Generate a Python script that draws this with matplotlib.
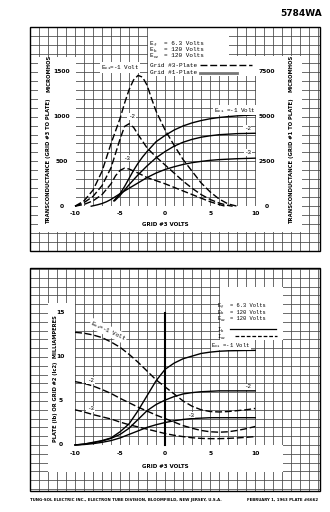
import matplotlib
matplotlib.use("Agg")
import matplotlib.pyplot as plt
from matplotlib.patches import Rectangle
import numpy as np

# ---------------- data ----------------
# Top panel: transconductance grid #3 -> plate (left axis, micromhos), dashed
gm3_m1_x = [-10, -9, -8, -7, -6, -5, -4.5, -4, -3.5, -3, -2.5, -2, -1.5, -1, 0, 1, 2, 3, 4, 5, 6, 7, 8]
gm3_m1_y = [0, 60, 180, 390, 700, 980, 1150, 1300, 1410, 1460, 1440, 1350, 1200, 1060, 850, 680, 520, 390, 260, 160, 80, 25, 0]
gm3_m2_x = [-10, -9, -8, -7, -6, -5, -4.5, -4, -3.5, -3, -2, -1, 0, 1, 2, 3, 4, 5, 6, 7, 7.5]
gm3_m2_y = [0, 40, 110, 230, 430, 750, 890, 920, 880, 800, 650, 550, 460, 370, 280, 200, 130, 75, 35, 8, 0]
gm3_m3_x = [-10, -9, -8, -7, -6, -5.5, -5, -4.5, -4, -3, -2, -1, 0, 1, 2, 3, 4, 5, 6, 6.7]
gm3_m3_y = [0, 20, 60, 130, 250, 340, 400, 425, 415, 370, 320, 285, 250, 210, 170, 130, 90, 50, 18, 0]

# Top panel: transconductance grid #1 -> plate (right axis, micromhos), solid
gm1_m1_x = [-5.7, -5, -4.5, -4, -3.5, -3, -2.5, -2, -1, 0, 1, 2, 3, 4, 5, 6, 7, 8, 9, 10]
gm1_m1_y = [300, 700, 1100, 1550, 2000, 2400, 2750, 3050, 3600, 3950, 4250, 4480, 4650, 4780, 4880, 4950, 5000, 5040, 5070, 5090]
gm1_m2_x = [-5.6, -5, -4.5, -4, -3, -2, -1, 0, 1, 2, 3, 4, 5, 6, 8, 10]
gm1_m2_y = [300, 600, 900, 1200, 1750, 2250, 2700, 3050, 3350, 3570, 3730, 3850, 3930, 3990, 4050, 4070]
gm1_m3_x = [-8.2, -7.5, -7, -6.5, -6, -5, -4, -3, -2, -1, 0, 1, 2, 3, 4, 5, 6, 8, 10]
gm1_m3_y = [0, 80, 150, 250, 380, 700, 1000, 1300, 1600, 1850, 2050, 2200, 2330, 2430, 2500, 2560, 2600, 2650, 2680]

# Bottom panel: grid #3 volts
e3 = [-10, -9, -8, -7, -6, -5, -4, -3, -2, -1, 0, 1, 2, 3, 4, 5, 6, 7, 8, 9, 10]
ib_m1 = [0, 0.1, 0.3, 0.5, 0.8, 1.5, 2.4, 3.9, 5.6, 7.3, 8.6, 9.3, 9.8, 10.1, 10.4, 10.55, 10.65, 10.7, 10.72, 10.74, 10.75]
ib_m2 = [0, 0.1, 0.25, 0.45, 0.75, 1.2, 1.9, 2.9, 3.9, 4.6, 5.1, 5.5, 5.8, 5.95, 6.05, 6.1, 6.15, 6.15, 6.15, 6.15, 6.15]
ib_m3 = [0, 0.05, 0.15, 0.3, 0.5, 0.8, 1.2, 1.6, 2.0, 2.3, 2.55, 2.75, 2.9, 3.0, 3.05, 3.1, 3.1, 3.1, 3.1, 3.1, 3.1]
ic2_m1 = [12.8, 12.7, 12.5, 12.2, 11.7, 11.1, 10.3, 9.4, 8.4, 7.4, 6.6, 5.8, 5.0, 4.4, 4.0, 3.8, 3.75, 3.8, 3.9, 4.0, 4.15]
ic2_m2 = [7.2, 7.0, 6.7, 6.3, 5.85, 5.3, 4.8, 4.3, 3.85, 3.4, 3.0, 2.6, 2.2, 1.9, 1.65, 1.5, 1.45, 1.5, 1.65, 1.85, 2.1]
ic2_m3 = [4.0, 3.75, 3.45, 3.2, 2.95, 2.6, 2.3, 2.05, 1.8, 1.55, 1.3, 1.1, 0.95, 0.82, 0.75, 0.72, 0.72, 0.75, 0.8, 0.87, 0.95]

x_ticks = [-10, -5, 0, 5, 10]
top_left_ticks = [0, 500, 1000, 1500]
top_right_ticks = [0, 2500, 5000, 7500]
bot_left_ticks = [0, 5, 10, 15]

# ---------------- figure ----------------
W, H = 330, 512
fig = plt.figure(figsize=(3.3, 5.12), dpi=100)
fig.patch.set_facecolor("white")

def box(x0, y0, x1, y1):
    return [x0 / W, 1 - y1 / H, (x1 - x0) / W, (y1 - y0) / H]

def white(ax, x0, y0, x1, y1, z=2):
    ax.add_patch(Rectangle((x0 / W, 1 - y1 / H), (x1 - x0) / W, (y1 - y0) / H,
                           transform=fig.transFigure, facecolor="white",
                           edgecolor="none", zorder=z, clip_on=False))

GRID_C = "#444444"
GRID_LW = 0.55
MONO = "Liberation Mono"
BOLD = "DejaVu Sans"
DASH = (5, 2)

lbl_box = dict(facecolor="white", edgecolor="none", pad=0.6)

def sub_line(ax, x, y, main, sub, rest, fs, col_rest=4):
    """monospace line with a manual subscript: main + sub, then rest at column col_rest"""
    cw = 0.6 * fs
    ax.annotate(main, xy=(x, y), xytext=(0, 0), textcoords="offset points",
                ha="left", va="center", fontsize=fs, family=MONO, zorder=6)
    ax.annotate(sub, xy=(x, y), xytext=(cw * len(main), -0.9), textcoords="offset points",
                ha="left", va="center", fontsize=fs * 0.72, family=MONO, zorder=6)
    ax.annotate(rest, xy=(x, y), xytext=(cw * col_rest, 0), textcoords="offset points",
                ha="left", va="center", fontsize=fs, family=MONO, zorder=6)

# ================= TOP PANEL =================
axT = fig.add_axes(box(30, 27, 320, 251))
axT.set_xlim(-15, 17.2)
axT.set_ylim(-500, 2000)
axT.axis("off")
axT2 = axT.twinx()
axT2.set_ylim(-2500, 10000)
axT2.axis("off")

for gx in np.arange(-15, 18, 1):
    axT.plot([gx, gx], [-500, 2000], color=GRID_C, lw=GRID_LW, zorder=1)
for gy in np.arange(-500, 2001, 100):
    axT.plot([-15, 17.2], [gy, gy], color=GRID_C, lw=GRID_LW, zorder=1)

white(axT, 38, 57, 76, 232)
white(axT, 38, 206, 302, 232)
white(axT, 256, 56, 302, 232)
white(axT, 148, 27, 229, 76)
white(axT, 229, 56, 256, 76)

axT.add_patch(Rectangle((0, 0), 1, 1, transform=axT.transAxes, fill=False,
                        edgecolor="black", lw=1.0, zorder=8, clip_on=False))

for xs, ys in [(gm3_m1_x, gm3_m1_y), (gm3_m2_x, gm3_m2_y), (gm3_m3_x, gm3_m3_y)]:
    axT.plot(xs, ys, color="black", lw=1.0, dashes=DASH, zorder=3)
for xs, ys in [(gm1_m1_x, gm1_m1_y), (gm1_m2_x, gm1_m2_y), (gm1_m3_x, gm1_m3_y)]:
    axT2.plot(xs, ys, color="black", lw=1.0, zorder=3)

# tick labels
for v in top_left_ticks:
    axT.text(-11.5, v, str(v), ha="center", va="center", fontsize=4.3,
             fontweight="bold", family=BOLD, zorder=6)
for v in top_right_ticks:
    axT2.text(11.3, v, str(v), ha="center", va="center", fontsize=4.3,
              fontweight="bold", family=BOLD, zorder=6)
for v in x_ticks:
    axT.text(v, -80, str(v), ha="center", va="center", fontsize=4.3,
             fontweight="bold", family=BOLD, zorder=6)
axT.text(0, -205, "GRID #3 VOLTS", ha="center", va="center", fontsize=4.0,
         fontweight="bold", family=BOLD, zorder=6)

# y labels
axT.text(-12.9, 1480, "MICROMHOS", rotation=90, ha="center", va="center",
         fontsize=3.8, fontweight="bold", family=BOLD, zorder=6)
axT.text(-12.9, 500, "TRANSCONDUCTANCE (GRID #3 TO PLATE)", rotation=90,
         ha="center", va="center", fontsize=3.8, fontweight="bold", family=BOLD, zorder=6)
axT.text(14.0, 1480, "MICROMHOS", rotation=90, ha="center", va="center",
         fontsize=3.8, fontweight="bold", family=BOLD, zorder=6)
axT.text(14.0, 500, "TRANSCONDUCTANCE (GRID #1 TO PLATE)", rotation=90,
         ha="center", va="center", fontsize=3.8, fontweight="bold", family=BOLD, zorder=6)

# curve labels
axT.text(-5.0, 1550, r"E$_{\mathregular{c1}}$=-1 Volt", ha="center", va="center",
         fontsize=4.2, family=MONO, bbox=lbl_box, zorder=5)
axT.text(-3.7, 1004, "-2", ha="center", va="center", fontsize=4.2, family=MONO,
         bbox=lbl_box, zorder=5)
axT.text(-4.3, 536, "-3", ha="center", va="center", fontsize=4.2, family=MONO,
         bbox=lbl_box, zorder=5)
axT2.text(7.7, 5357, r"E$_{\mathregular{c1}}$ =-1 Volt", ha="center", va="center",
          fontsize=4.2, family=MONO, bbox=lbl_box, zorder=5)
axT2.text(9.1, 4352, "-2", ha="center", va="center", fontsize=4.2, family=MONO,
          bbox=lbl_box, zorder=5)
axT2.text(9.2, 3013, "-3", ha="center", va="center", fontsize=4.2, family=MONO,
          bbox=lbl_box, zorder=5)

# legend (top)
lx = -1.7
fsl = 4.3
sub_line(axT, lx, 1815, "E", "f", "= 6.3 Volts", fsl)
sub_line(axT, lx, 1748, "E", "b", "= 120 Volts", fsl)
sub_line(axT, lx, 1681, "E", "c2", "= 120 Volts", fsl)
axT.text(lx, 1572, "Grid #3-Plate", ha="left", va="center", fontsize=fsl,
         family=MONO, zorder=6)
axT.plot([3.9, 9.6], [1572, 1572], color="black", lw=1.0, dashes=DASH, zorder=6)
axT.text(lx, 1492, "Grid #1-Plate", ha="left", va="center", fontsize=fsl,
         family=MONO, zorder=6)
axT.plot([3.9, 8.0], [1492, 1492], color="#777777", lw=2.0, zorder=6)

# ================= BOTTOM PANEL =================
axB = fig.add_axes(box(30, 268, 320, 491))
axB.set_xlim(-15, 17.2)
axB.set_ylim(-5.23, 20.11)
axB.axis("off")

for gx in np.arange(-15, 18, 1):
    axB.plot([gx, gx], [-5.23, 20.11], color=GRID_C, lw=GRID_LW, zorder=1)
for gy in np.arange(-5, 21, 1):
    axB.plot([-15, 17.2], [gy, gy], color=GRID_C, lw=GRID_LW, zorder=1)

white(axB, 48, 303, 75, 472)
white(axB, 48, 445, 283, 472)
white(axB, 220, 287, 283, 340)

axB.plot([0, 0], [0, 15], color="black", lw=1.5, zorder=3)
axB.add_patch(Rectangle((0, 0), 1, 1, transform=axB.transAxes, fill=False,
                        edgecolor="black", lw=1.0, zorder=8, clip_on=False))

for ys in [ib_m1, ib_m2, ib_m3]:
    axB.plot(e3, ys, color="black", lw=1.0, zorder=3)
for ys in [ic2_m1, ic2_m2, ic2_m3]:
    axB.plot(e3, ys, color="black", lw=1.0, dashes=DASH, zorder=3)

for v in bot_left_ticks:
    axB.text(-11.6, v, str(v), ha="center", va="center", fontsize=4.3,
             fontweight="bold", family=BOLD, zorder=6)
for v in x_ticks:
    axB.text(v, -1.0, str(v), ha="center", va="center", fontsize=4.3,
             fontweight="bold", family=BOLD, zorder=6)
axB.text(0, -2.4, "GRID #3 VOLTS", ha="center", va="center", fontsize=4.0,
         fontweight="bold", family=BOLD, zorder=6)
axB.text(-12.2, 7.5, "PLATE (Ib) OR GRID #2 (Ic2)  MILLIAMPERES", rotation=90,
         ha="center", va="center", fontsize=3.7, fontweight="bold", family=BOLD, zorder=6)

# curve labels
axB.text(-6.3, 12.95, r"E$_{\mathregular{c1}}$=-1 Volt", rotation=-25, ha="center",
         va="center", fontsize=4.2, family=MONO, bbox=lbl_box, zorder=5)
axB.text(-8.3, 7.3, "-2", ha="center", va="center", fontsize=4.2, family=MONO,
         bbox=lbl_box, zorder=5)
axB.text(-8.3, 4.1, "-3", ha="center", va="center", fontsize=4.2, family=MONO,
         bbox=lbl_box, zorder=5)
axB.text(7.3, 11.35, r"E$_{\mathregular{c1}}$ =-1 Volt", ha="center", va="center",
         fontsize=4.0, family=MONO, bbox=dict(facecolor="white", edgecolor="none", pad=0.3),
         zorder=5)
axB.text(9.2, 6.6, "-2", ha="center", va="center", fontsize=4.2, family=MONO,
         bbox=lbl_box, zorder=5)
axB.text(2.8, 3.4, "-3", ha="center", va="center", fontsize=4.2, family=MONO,
         bbox=lbl_box, zorder=5)

# legend (bottom)
bx = 5.8
fsb = 3.9
sub_line(axB, bx, 15.85, "E", "f", "= 6.3 Volts", fsb)
sub_line(axB, bx, 15.1, "E", "b", "= 120 Volts", fsb)
sub_line(axB, bx, 14.35, "E", "c2", "= 120 Volts", fsb)
sub_line(axB, bx, 13.15, "I", "b", "", fsb)
axB.plot([7.2, 12.3], [13.15, 13.15], color="black", lw=0.9, zorder=6)
sub_line(axB, bx, 12.35, "I", "c2", "", fsb)
axB.plot([7.8, 12.4], [12.35, 12.35], color="black", lw=0.9, dashes=(3, 1.5), zorder=6)

# ================= page texts =================
fig.text(301 / W, 1 - 13 / H, "5784WA", ha="center", va="center", fontsize=6.5,
         fontweight="bold", family=BOLD)
fig.text(30 / W, 1 - 500 / H,
         "TUNG-SOL ELECTRIC INC., ELECTRON TUBE DIVISION, BLOOMFIELD, NEW JERSEY, U.S.A.",
         ha="left", va="center", fontsize=2.75, fontweight="bold", family=BOLD)
fig.text(318 / W, 1 - 500 / H, "FEBRUARY 1, 1963 PLATE #6662", ha="right",
         va="center", fontsize=2.75, fontweight="bold", family=BOLD)

fig.savefig("out.png", dpi=100, facecolor="white")
